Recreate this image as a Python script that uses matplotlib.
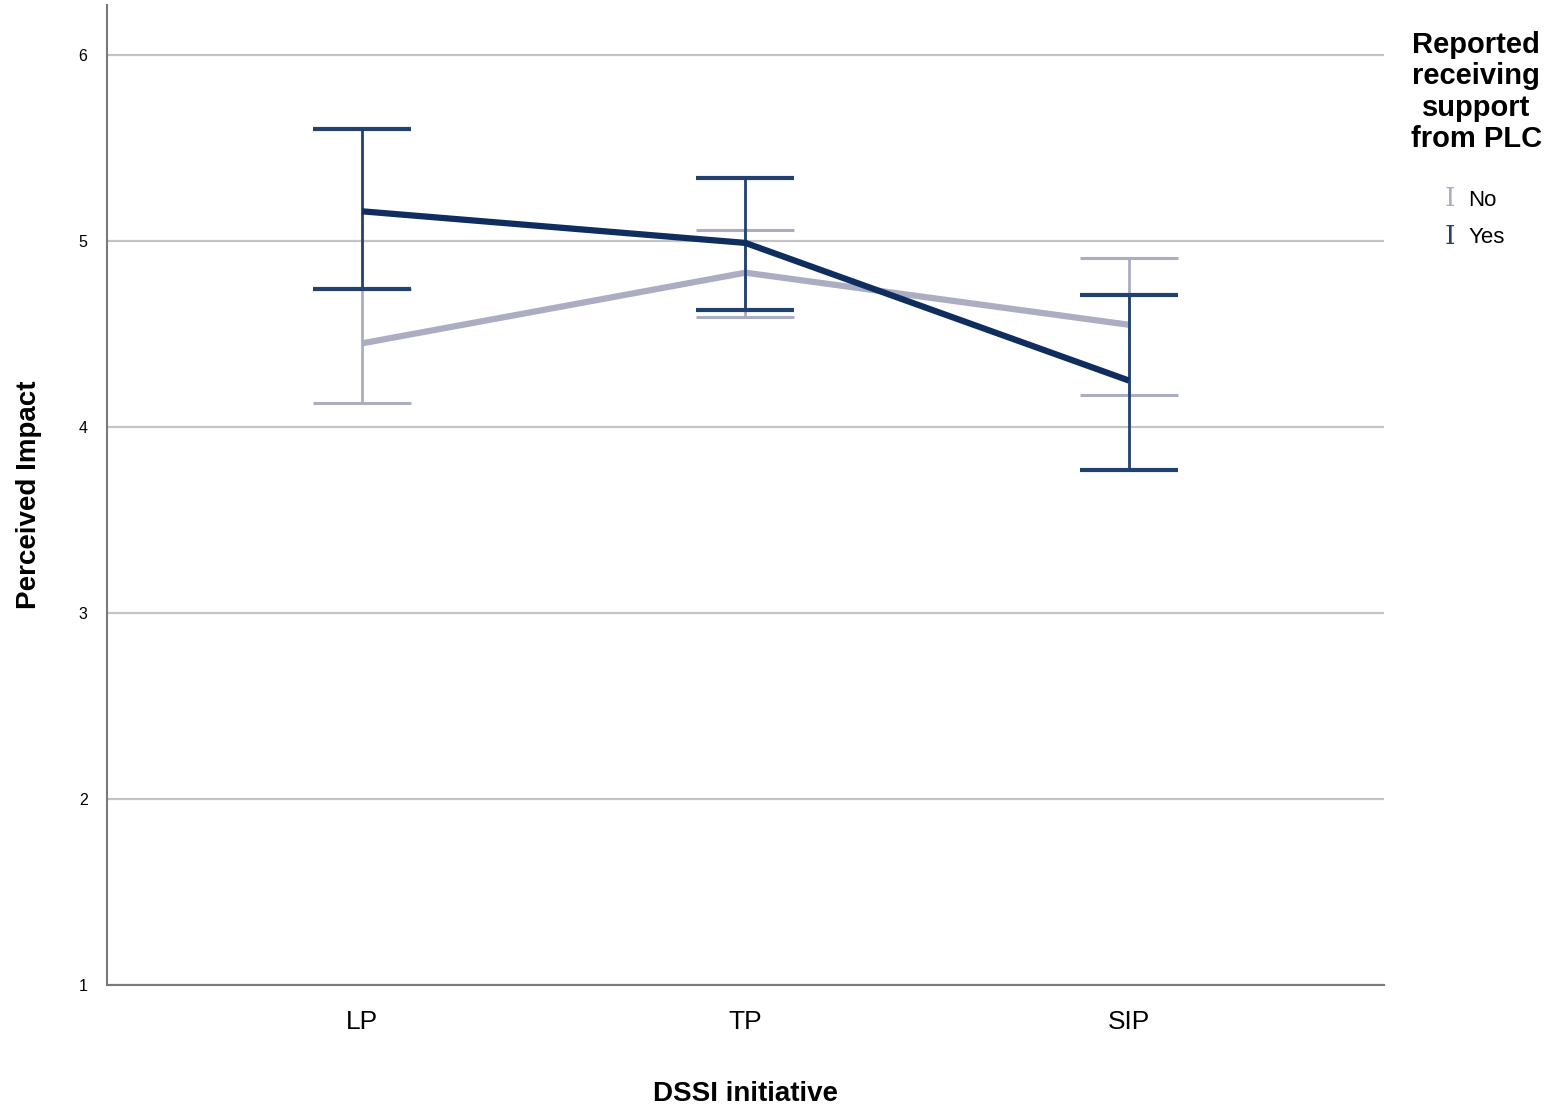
import matplotlib.pyplot as plt
import numpy as np

initiatives = ['LP', 'TP', 'SIP']
no_mean = [4.45, 4.83, 4.55]
no_low = [4.13, 4.59, 4.17]
no_high = [4.74, 5.06, 4.91]
yes_mean = [5.16, 4.99, 4.25]
yes_low = [4.74, 4.63, 3.77]
yes_high = [5.60, 5.34, 4.71]

NO_COLOR = '#abadc2'
YES_COLOR = '#0f2d5e'
YES_ERR = '#22416f'

fig = plt.figure(figsize=(15.62, 11.05), dpi=100)
ax = fig.add_axes([0.0685, 0.1086, 0.8175, 0.887])

x = np.arange(len(initiatives))


def draw(mean, low, high, color, err_color, z, capthick):
	mean = np.array(mean)
	yerr = [mean - np.array(low), np.array(high) - mean]
	ax.errorbar(x, mean, yerr=yerr, fmt='none', ecolor=err_color,
				elinewidth=2, capsize=35, capthick=capthick, zorder=z)
	ax.plot(x, mean, color=color, linewidth=4.5, solid_capstyle='butt', zorder=z + 0.5)


draw(no_mean, no_low, no_high, NO_COLOR, NO_COLOR, 3, 2.2)
draw(yes_mean, yes_low, yes_high, YES_COLOR, YES_ERR, 5, 3)

ax.set_xlim(-0.665, 2.665)
ax.set_ylim(1, 6.27)
ax.set_yticks([1, 2, 3, 4, 5, 6])
ax.set_xticks(x)
ax.set_xticklabels(initiatives, fontsize=19, fontfamily='Liberation Sans')
ax.tick_params(axis='y', labelsize=11.5, length=0, pad=14)
ax.tick_params(axis='x', length=0, pad=18)
for lbl in ax.get_yticklabels():
	lbl.set_fontfamily('Liberation Sans')

ax.grid(axis='y', color='#c4c4c4', linewidth=1.6)
ax.set_axisbelow(True)
for s in ['top', 'right']:
	ax.spines[s].set_visible(False)
for s in ['left', 'bottom']:
	ax.spines[s].set_color('#7a7a7a')
	ax.spines[s].set_linewidth(1.5)

label_font = ['Liberation Sans Narrow', 'Liberation Sans']
ax.set_ylabel('Perceived Impact', fontsize=20, fontweight='bold', family=label_font, labelpad=26)
ax.set_xlabel('DSSI initiative', fontsize=20, fontweight='bold', family=label_font, labelpad=34)

# legend drawn by hand
fig.text(0.945, 0.972, 'Reported\nreceiving\nsupport\nfrom PLC', ha='center', va='top',
		 fontsize=21, fontweight='bold', family='Liberation Sans', linespacing=1.15)
fig.text(0.928, 0.820, 'I', color=NO_COLOR, fontsize=19, family='DejaVu Serif', ha='center', va='center')
fig.text(0.940, 0.819, 'No', fontsize=16, family='Liberation Sans', va='center')
fig.text(0.928, 0.786, 'I', color=YES_ERR, fontsize=19, family='DejaVu Serif', ha='center', va='center')
fig.text(0.940, 0.785, 'Yes', fontsize=16, family='Liberation Sans', va='center')

fig.savefig('out.png', dpi=100)
